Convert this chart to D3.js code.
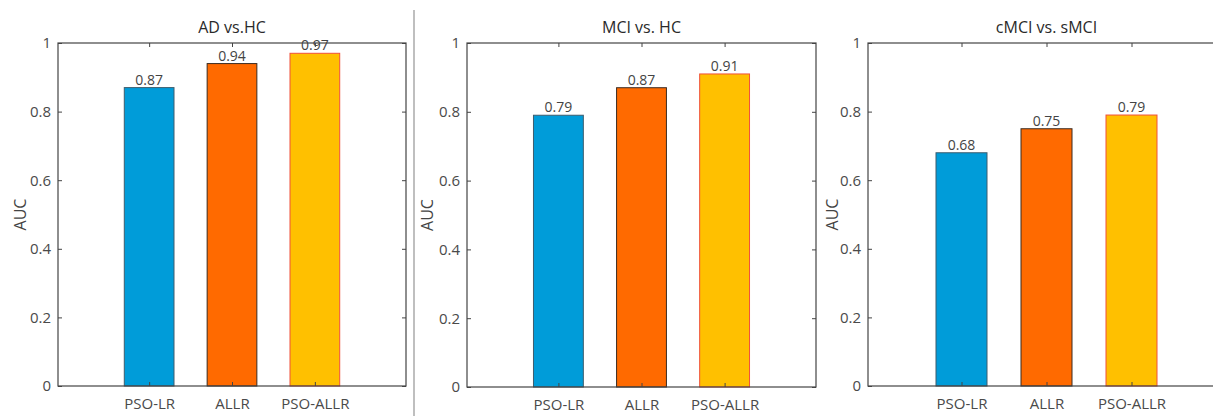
<!DOCTYPE html>
<html>
<head>
<meta charset="utf-8">
<script src="https://cdn.jsdelivr.net/npm/d3@7"></script>
<style>
  body { margin: 0; background: #fff; }
  svg { display: block; font-family: "Open Sans", sans-serif; }
</style>
</head>
<body>
<div id="chart"></div>
<script>
// data
const panelTitles = ["AD vs.HC", "MCI vs. HC", "cMCI vs. sMCI"];
const methods = ["PSO-LR", "ALLR", "PSO-ALLR"];
const aucAD = [0.87, 0.94, 0.97];
const aucMCI = [0.79, 0.87, 0.91];
const aucCMCI = [0.68, 0.75, 0.79];
const yTicks = [0, 0.2, 0.4, 0.6, 0.8, 1];
const barColors = ["#009cd9", "#ff6a00", "#ffc000"];
const barStrokes = ["#3d5d6e", "#3a2a20", "#f0503a"];

const width = 1213, height = 416;

const svg = d3.select("#chart").append("svg")
    .attr("width", width)
    .attr("height", height);

// where each axes box sits
const boxes = [
    {left: 58, right: 406, top: 43, bottom: 386, ylab: 38},
    {left: 467, right: 816, top: 43, bottom: 387, ylab: 40},
    {left: 868, right: 1225, top: 43, bottom: 386, ylab: 36}
];
const allValues = [aucAD, aucMCI, aucCMCI];

// thin divider between first and second panel
svg.append("line")
    .attr("x1", 414).attr("x2", 414)
    .attr("y1", 10).attr("y2", height)
    .attr("stroke", "#aaa")
    .attr("stroke-width", 1.5);

boxes.forEach((b, p) => {
    const values = allValues[p];
    const g = svg.append("g");

    const x = d3.scaleLinear().domain([-0.1, 4.1]).range([b.left, b.right]);
    const y = d3.scaleLinear().domain([0, 1]).range([b.bottom, b.top]);

    // bars
    g.selectAll("rect.bar")
        .data(values)
        .join("rect")
        .attr("class", "bar")
        .attr("x", (d, i) => x(i + 1 - 0.3))
        .attr("width", (d, i) => x(i + 1.3) - x(i + 0.7))
        .attr("y", d => y(d))
        .attr("height", d => y(0) - y(d))
        .attr("fill", (d, i) => barColors[i])
        .attr("stroke", (d, i) => barStrokes[i])
        .attr("stroke-width", 1);

    // value labels above bars
    g.selectAll("text.val")
        .data(values)
        .join("text")
        .attr("class", "val")
        .attr("x", (d, i) => x(i + 1))
        .attr("y", d => y(d) - 3)
        .attr("text-anchor", "middle")
        .attr("font-size", 14)
        .attr("fill", "#444")
        .text(d => d3.format(".2f")(d));

    // axes, ticks point inward like matlab
    const yLeft = d3.axisLeft(y).tickValues(yTicks).tickSize(-4).tickPadding(7)
        .tickFormat(d => String(d));
    const yRight = d3.axisRight(y).tickValues(yTicks).tickSize(-4).tickFormat("");
    const xBottom = d3.axisBottom(x).tickValues([1, 2, 3]).tickSize(-4).tickPadding(12)
        .tickFormat(d => methods[d - 1]);
    const xTop = d3.axisTop(x).tickValues([1, 2, 3]).tickSize(-4).tickFormat("");

    const styleAxis = sel => {
        sel.select(".domain").remove();
        sel.selectAll(".tick line").attr("stroke", "#444");
        sel.selectAll(".tick text")
            .attr("font-size", 15)
            .attr("fill", "#4a4a4a")
            .attr("font-family", "Open Sans, sans-serif");
    };

    g.append("g").attr("transform", `translate(${b.left},0)`).call(yLeft).call(styleAxis);
    g.append("g").attr("transform", `translate(${b.right},0)`).call(yRight).call(styleAxis);
    g.append("g").attr("transform", `translate(0,${b.bottom})`).call(xBottom).call(styleAxis);
    g.append("g").attr("transform", `translate(0,${b.top})`).call(xTop).call(styleAxis);

    // box
    g.append("rect")
        .attr("x", b.left).attr("y", b.top)
        .attr("width", b.right - b.left)
        .attr("height", b.bottom - b.top)
        .attr("fill", "none")
        .attr("stroke", "#444")
        .attr("stroke-width", 1.2);

    // title
    g.append("text")
        .attr("x", (b.left + b.right) / 2)
        .attr("y", 33)
        .attr("text-anchor", "middle")
        .attr("font-size", 16)
        .attr("fill", "#2a2a2a")
        .text(panelTitles[p]);

    // y label
    g.append("text")
        .attr("transform", `translate(${b.left - b.ylab},${(b.top + b.bottom) / 2}) rotate(-90)`)
        .attr("dy", "0.35em")
        .attr("text-anchor", "middle")
        .attr("font-size", 16)
        .attr("fill", "#444")
        .text("AUC");
});
</script>
</body>
</html>
